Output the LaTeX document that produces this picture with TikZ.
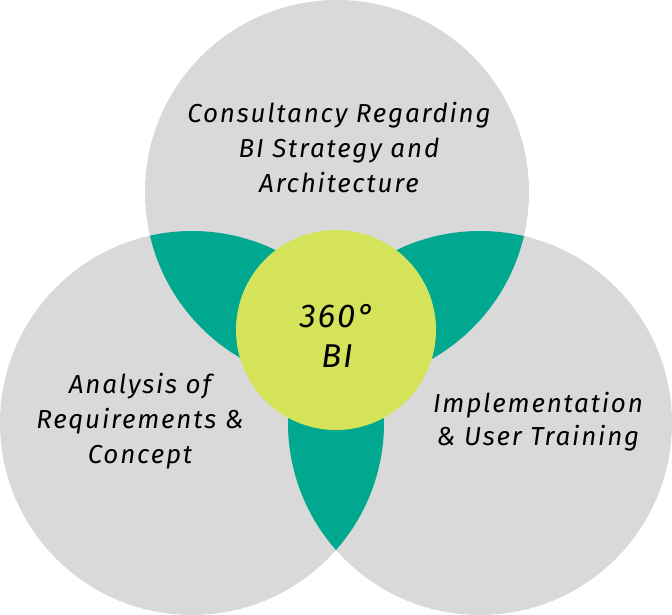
\documentclass[tikz,border=0pt]{standalone}
\usepackage{fontspec}
\setmainfont{Fira Sans}
\usepackage{tikz}
\definecolor{Petal}{HTML}{D9D9D9}
\definecolor{Overlap}{HTML}{00A88F}
\definecolor{Core}{HTML}{D4E35A}
\tikzset{petal/.style={circle,fill=Petal,minimum size=384pt,inner sep=0pt},overlap/.style={fill=Overlap},core/.style={circle,fill=Core,minimum size=200pt,inner sep=0pt},caption/.style={align=center,font=\itshape\addfontfeatures{LetterSpace=7}\fontsize{26}{35}\selectfont}}
\begin{document}
\begin{tikzpicture}[x=1pt,y=-1pt]
      \useasboundingbox (0,0) rectangle (672,615);
      \node[petal](strategy) at (337,192){};
      \node[petal](analysis) at (192,423){};
      \node[petal](training) at (480,423){};
      % pairwise overlaps
      \begin{scope}\clip (strategy.center) circle[radius=192];\fill[overlap] (analysis.center) circle[radius=192];\end{scope}
      \begin{scope}\clip (strategy.center) circle[radius=192];\fill[overlap] (training.center) circle[radius=192];\end{scope}
      \begin{scope}\clip (analysis.center) circle[radius=192];\fill[overlap] (training.center) circle[radius=192];\end{scope}
      \node[core](bi) at (336,330){};
      \node[caption](strategytext) at (339,148){Consultancy Regarding\\BI Strategy and\\Architecture};
      \node[caption](analysistext) at (140,421){Analysis of\\Requirements \&\\Concept};
      \node[caption,font=\itshape\addfontfeatures{LetterSpace=7}\fontsize{26}{33}\selectfont](trainingtext) at (538,422){Implementation\\\& User Training};
      \node[caption,font=\itshape\addfontfeatures{LetterSpace=6}\fontsize{33}{40}\selectfont](bitext) at (337,336){360°\\BI};
    \end{tikzpicture}
\end{document}
